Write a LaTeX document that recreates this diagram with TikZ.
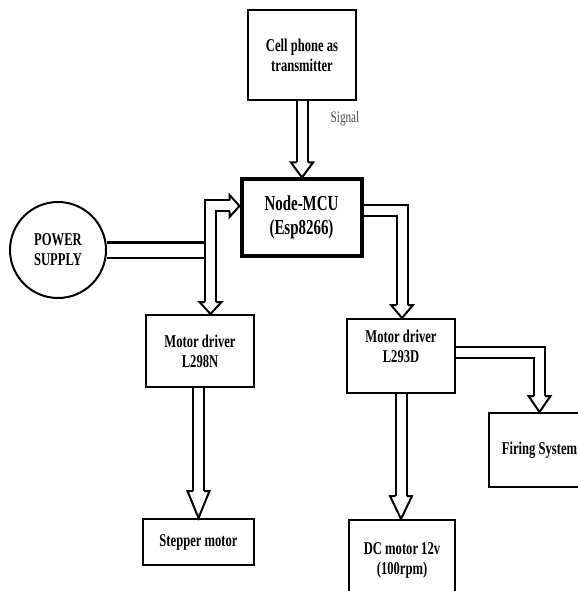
\documentclass[tikz,border=0pt]{standalone}
\usepackage{fontspec}
\setmainfont{Liberation Serif}[FakeStretch=0.7]
\usepackage{tikz}
\usetikzlibrary{calc}

\begin{document}
\begin{tikzpicture}[x=0.75pt, y=-0.75pt,
	block/.style={draw, line width=1.5pt, align=center, inner sep=0pt, font=\bfseries\fontsize{13.5}{15}\selectfont},
	pipe/.style={draw, line width=1.5pt, double=white, double distance=#1, line join=miter},
	pipe/.default=6.75pt,
	pics/hhead/.style={code={\draw[line width=1.5pt, line join=miter] (-#1,-5.5) -- (-#1,-11) -- (0,0) -- (-#1,11) -- (-#1,5.5);}}
	]
	\useasboundingbox (0,0) rectangle (577,591);

	\node[block, minimum width=81pt, minimum height=67.5pt] (cell) at (302,55) {Cell phone as\\transmitter};
	\node[block, line width=3pt, minimum width=90pt, minimum height=57pt, font=\bfseries\fontsize{16}{17.5}\selectfont] (mcu) at (301.5,217.5) {Node-MCU\\(Esp8266)};
	\node[draw, circle, line width=1.5pt, minimum size=72pt, align=center, inner sep=0pt, font=\bfseries\fontsize{13.5}{15}\selectfont] (power) at (58,250) {POWER\\SUPPLY};
	\node[block, minimum width=81pt, minimum height=54pt] (l298) at (200,351) {Motor driver\\L298N};
	\node[block, minimum width=83.25pt, minimum height=34.5pt] (stepper) at (198.5,542) {Stepper motor};
	\node[block, minimum width=81pt, minimum height=55.5pt] (l293) at (401,356) {};
	\node[align=center, font=\bfseries\fontsize{13.5}{15}\selectfont] (l293txt) at ([yshift=7.5pt]l293.center) {Motor driver\\L293D};
	\node[block, minimum width=76.5pt, minimum height=55.5pt] (firing) at (539.5,450) {Firing System};
	\node[block, minimum width=79.5pt, minimum height=60pt] (dc) at (402,560) {DC motor 12v\\(100rpm)};
	\node[text=black!70, font=\fontsize{12}{14}\selectfont] (signal) at (345,119) {Signal};

	\coordinate (split) at (210.5,206);
	\coordinate (mcuin) at (mcu.west |- split);
	\coordinate (mcuout) at ($(mcu.east)+(0,-6.7)$);
	\coordinate (l293out) at ($(l293.east)+(0,-3.5)$);

	\draw[pipe] (cell.south) -- ($(cell.south |- mcu.north)+(0,-15)$);
	\path (cell.south |- mcu.north) pic[rotate=-90] {hhead=15};

	\draw[pipe=9.75pt] (power.east) -- (power.east -| 205,0);
	\draw[pipe] ($(mcuin)+(-10,0)$) -| ($(split |- l298.north)+(0,-12)$);
	\path (mcuin) pic {hhead=10};
	\path (split |- l298.north) pic[rotate=-90] {hhead=12};

	\draw[pipe] (mcuout) -| ($(l293.north)+(1,-13)$);
	\path ($(l293.north)+(1,0)$) pic[rotate=-90] {hhead=13};

	\draw[pipe] (stepper.north |- l298.south) -- ($(stepper.north)+(0,-27)$);
	\path (stepper.north) pic[rotate=-90] {hhead=27};

	\draw[pipe] (l293.south) -- ($(l293.south |- dc.north)+(0,-23)$);
	\path (l293.south |- dc.north) pic[rotate=-90] {hhead=23};

	\draw[pipe] (l293out) -| ($(firing.north)+(0,-16)$);
	\path (firing.north) pic[rotate=-90] {hhead=16};
\end{tikzpicture}
\end{document}
